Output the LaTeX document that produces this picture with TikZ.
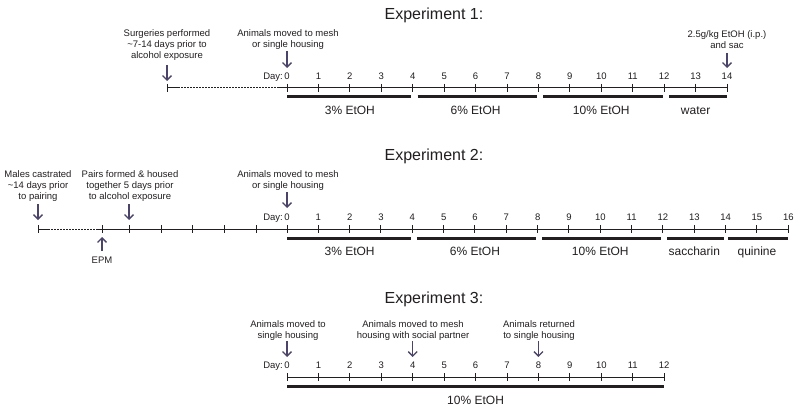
\documentclass[tikz,border=0pt]{standalone}
\usepackage{fontspec}
\setmainfont{Liberation Sans}
\usetikzlibrary{arrows.meta,calc}
\definecolor{ink}{HTML}{231F20}
\definecolor{arrowc}{HTML}{4B4468}
\begin{document}
\begin{tikzpicture}[x=1pt,y=-1pt,
 axis/.style={draw=ink,line width=1pt},
 dotseg/.style={draw=ink,line width=1pt,dash pattern=on 1.5pt off 1.5pt},
 tickmark/.style={draw=ink,line width=1pt},
 bar/.style={draw=ink,line width=3pt},
 daylab/.style={font=\fontsize{9.5}{11}\selectfont,text=ink,anchor=base,inner sep=0pt},
 barlab/.style={font=\fontsize{12}{14}\selectfont,text=ink,anchor=base,inner sep=0pt},
 title/.style={font=\fontsize{16}{19}\selectfont,text=ink,anchor=base,inner sep=0pt},
 ann/.style={font=\fontsize{9.5}{11}\selectfont,text=ink,align=center,anchor=north,inner sep=0pt},
 arr/.style={draw=arrowc,line width=1.3pt,-{Straight Barb[length=4.5pt,width=9pt]}},
]
\useasboundingbox[fill=white] (0,0) rectangle (800,409);

% ================= Experiment 1 =================
\node[title] (t1) at (434,20) {Experiment 1:};
\coordinate (e1s) at (167,88);
\coordinate (e1p) at (178,88);
\coordinate (e1q) at (277,88);
\foreach \d in {0,...,14} {
  \coordinate (e1d\d) at ({287+31.43*\d},88);
  \draw[tickmark] ([yshift=4pt]e1d\d) -- ([yshift=-4pt]e1d\d);
  \node[daylab] (e1l\d) at ({287+31.43*\d},79.5) {\d};
}
\node[daylab,anchor=base east] (e1day) at (283,79.5) {Day:};
\draw[tickmark] ([yshift=4pt]e1s) -- ([yshift=-4pt]e1s);
\draw[axis] (e1s) -- (e1p);
\draw[dotseg] (e1p) -- (e1q);
\draw[axis] (e1q) -- (e1d14);
% bars
\draw[bar] ([yshift=-9pt]e1d0) -- ([yshift=-9pt,xshift=-1.5pt]e1d4);
\draw[bar] ([yshift=-9pt,xshift=5pt]e1d4) -- ([yshift=-9pt,xshift=-1.5pt]e1d8);
\draw[bar] ([yshift=-9pt,xshift=5pt]e1d8) -- ([yshift=-9pt,xshift=-1.5pt]e1d12);
\draw[bar] ([yshift=-9pt,xshift=5pt]e1d12) -- ([yshift=-9pt]e1d14);
\node[barlab] (e1b1) at ($(e1d2)+(0,27)$) {3\% EtOH};
\node[barlab] (e1b2) at ($(e1d6)+(0,27)$) {6\% EtOH};
\node[barlab] (e1b3) at ($(e1d10)+(0,27)$) {10\% EtOH};
\node[barlab] (e1b4) at ($(e1d13)+(0,27)$) {water};
% annotations
\node[ann] (e1a1) at (167,29.5) {Surgeries performed\\\textasciitilde7-14 days prior to\\alcohol exposure};
\node[ann] (e1a2) at (288,29.5) {Animals moved to mesh\\or single housing};
\node[ann] (e1a3) at (727,30) {2.5g/kg EtOH (i.p.)\\and sac};
\coordinate (e1r1a) at (167,65); \coordinate (e1r1b) at (167,81);
\coordinate (e1r2a) at (287,51); \coordinate (e1r2b) at (287,68);
\coordinate (e1r3a) at ($(e1d14)+(0,-35)$); \coordinate (e1r3b) at ($(e1d14)+(0,-20)$);
\draw[arr] (e1r1a) -- (e1r1b);
\draw[arr] (e1r2a) -- (e1r2b);
\draw[arr] (e1r3a) -- (e1r3b);

% ================= Experiment 2 =================
\node[title] (t2) at (434,160) {Experiment 2:};
\coordinate (e2s) at (38,229);
\coordinate (e2p) at (48,229);
\coordinate (e2q) at (97,229);
\foreach \d in {0,...,16} {
  \coordinate (e2d\d) at ({287+31.33*\d},229);
  \draw[tickmark] ([yshift=4pt]e2d\d) -- ([yshift=-4pt]e2d\d);
  \node[daylab] (e2l\d) at ({287+31.33*\d},220) {\d};
}
\foreach \x [count=\i] in {102,129,161,192,224,256} {
  \coordinate (e2m\i) at (\x,229);
  \draw[tickmark] ([yshift=4pt]e2m\i) -- ([yshift=-4pt]e2m\i);
}
\node[daylab,anchor=base east] (e2day) at (283,220) {Day:};
\draw[tickmark] ([yshift=4pt]e2s) -- ([yshift=-4pt]e2s);
\draw[axis] (e2s) -- (e2p);
\draw[dotseg] (e2p) -- (e2q);
\draw[axis] (e2q) -- (e2d16);
% bars
\draw[bar] ([yshift=-9pt]e2d0) -- ([yshift=-9pt,xshift=-1.5pt]e2d4);
\draw[bar] ([yshift=-9pt,xshift=4.5pt]e2d4) -- ([yshift=-9pt,xshift=-1.5pt]e2d8);
\draw[bar] ([yshift=-9pt,xshift=4.5pt]e2d8) -- ([yshift=-9pt,xshift=-1.5pt]e2d12);
\draw[bar] ([yshift=-9pt,xshift=4.5pt]e2d12) -- ([yshift=-9pt,xshift=-2pt]e2d14);
\draw[bar] ([yshift=-9pt,xshift=2.5pt]e2d14) -- ([yshift=-9pt]e2d16);
\node[barlab] (e2b1) at ($(e2d2)+(0,26)$) {3\% EtOH};
\node[barlab] (e2b2) at ($(e2d6)+(0,26)$) {6\% EtOH};
\node[barlab] (e2b3) at ($(e2d10)+(0,26)$) {10\% EtOH};
\node[barlab] (e2b4) at ($(e2d13)+(0,26)$) {saccharin};
\node[barlab] (e2b5) at ($(e2d15)+(0,26)$) {quinine};
% annotations
\node[ann] (e2a1) at (38,170) {Males castrated\\\textasciitilde14 days prior\\to pairing};
\node[ann] (e2a2) at (130,170) {Pairs formed \& housed\\together 5 days prior\\to alcohol exposure};
\node[ann] (e2a3) at (288,170) {Animals moved to mesh\\or single housing};
\node[daylab,anchor=north] (e2epm) at (102,257) {EPM};
\coordinate (e2r1a) at (38,204); \coordinate (e2r1b) at (38,220);
\coordinate (e2r2a) at (129,204); \coordinate (e2r2b) at (129,220);
\coordinate (e2r3a) at (287,192); \coordinate (e2r3b) at (287,208);
\coordinate (e2r4a) at (102,251); \coordinate (e2r4b) at (102,237);
\draw[arr] (e2r1a) -- (e2r1b);
\draw[arr] (e2r2a) -- (e2r2b);
\draw[arr] (e2r3a) -- (e2r3b);
\draw[arr] (e2r4a) -- (e2r4b);

% ================= Experiment 3 =================
\node[title] (t3) at (434,303) {Experiment 3:};
\foreach \d in {0,...,12} {
  \coordinate (e3d\d) at ({287+31.43*\d},377);
  \draw[tickmark] ([yshift=4pt]e3d\d) -- ([yshift=-4pt]e3d\d);
  \node[daylab] (e3l\d) at ({287+31.43*\d},368) {\d};
}
\node[daylab,anchor=base east] (e3day) at (283,368) {Day:};
\draw[axis] (e3d0) -- (e3d12);
\draw[bar] ([yshift=-9pt]e3d0) -- ([yshift=-9pt]e3d12);
\node[barlab] (e3b1) at ($(e3d6)+(0,27)$) {10\% EtOH};
\node[ann] (e3a1) at (288,320) {Animals moved to\\single housing};
\node[ann] (e3a2) at (413,320) {Animals moved to mesh\\housing with social partner};
\node[ann] (e3a3) at (539,320) {Animals returned\\to single housing};
\coordinate (e3r1a) at (287,341); \coordinate (e3r1b) at (287,357);
\coordinate (e3r2a) at ($(e3d4)+(0,-36)$); \coordinate (e3r2b) at ($(e3d4)+(0,-20)$);
\coordinate (e3r3a) at ($(e3d8)+(0,-36)$); \coordinate (e3r3b) at ($(e3d8)+(0,-20)$);
\draw[arr] (e3r1a) -- (e3r1b);
\draw[arr] (e3r2a) -- (e3r2b);
\draw[arr] (e3r3a) -- (e3r3b);
\end{tikzpicture}
\end{document}
